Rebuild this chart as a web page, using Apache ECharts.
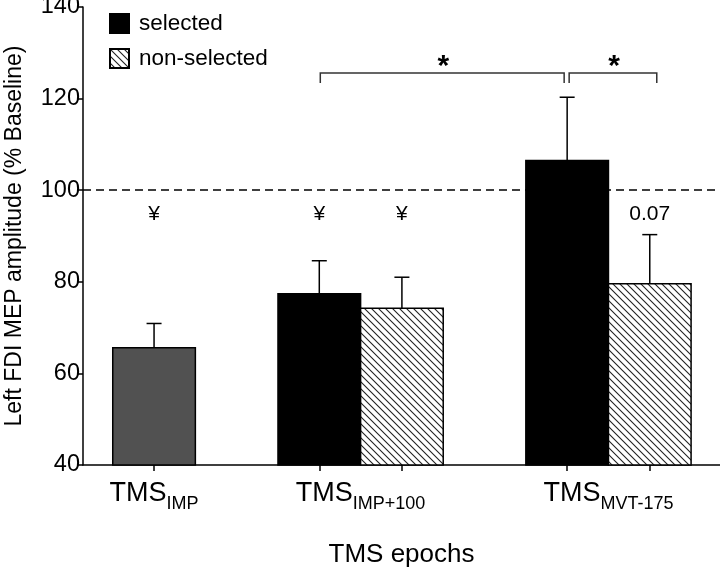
<!DOCTYPE html>
<html>
<head>
<meta charset="utf-8">
<script src="https://cdn.jsdelivr.net/npm/echarts@6/dist/echarts.min.js"></script>
<style>
html,body{margin:0;padding:0;background:#fff;}
#chart{width:720px;height:572px;}
</style>
</head>
<body>
<div id="chart"></div>
<script>
// ---- data ----
const epochs = ['IMP', 'IMP+100', 'MVT-175'];          // subscripts of "TMS"
const pooledMean = [65.6, null, null];
const pooledErr = [5.3, null, null];
const selectedMean = [null, 77.4, 106.5];
const selectedErr = [null, 7.2, 13.8];
const nonSelectedMean = [null, 74.2, 79.6];
const nonSelectedErr = [null, 6.8, 10.7];
const pooledMark = ['¥', null, null];
const selectedMark = [null, '¥', null];
const nonSelectedMark = [null, '¥', '0.07'];
const comparisons = [
  { from: [1, 'selected'], to: [2, 'selected'], label: '*' },
  { from: [2, 'selected'], to: [2, 'nonSelected'], label: '*' }
];
const yTicks = [40, 60, 80, 100, 120, 140];
const baseline = 100;

// ---- layout (bar units) ----
const FONT = '"Liberation Sans", Arial, Helvetica, sans-serif';
const seriesKeys = ['pooled', 'selected', 'nonSelected'];
const means = { pooled: pooledMean, selected: selectedMean, nonSelected: nonSelectedMean };
const errs = { pooled: pooledErr, selected: selectedErr, nonSelected: nonSelectedErr };
const marks = { pooled: pooledMark, selected: selectedMark, nonSelected: nonSelectedMark };
const barPos = {}; // key "g|series" -> x center
const groupCenters = [];
let cursor = 0;
epochs.forEach((e, g) => {
  const present = seriesKeys.filter(k => means[k][g] != null);
  const start = cursor;
  present.forEach((k, i) => { barPos[g + '|' + k] = start + i; });
  const end = start + present.length - 1;
  groupCenters.push((start + end) / 2);
  cursor = end + 2; // one bar-width gap between groups
});
const tickXs = Object.values(barPos).sort((a, b) => a - b);

function seriesData(key) {
  const out = [];
  epochs.forEach((e, g) => {
    if (means[key][g] != null) out.push([barPos[g + '|' + key], means[key][g], errs[key][g]]);
  });
  return out;
}

// hatch pattern
const pc = document.createElement('canvas');
const P = 7;
pc.width = P; pc.height = P;
const ctx = pc.getContext('2d');
ctx.fillStyle = '#fff'; ctx.fillRect(0, 0, P, P);
ctx.strokeStyle = '#222'; ctx.lineWidth = 1.1;
ctx.beginPath();
ctx.moveTo(-1, -1); ctx.lineTo(P + 1, P + 1);
ctx.moveTo(-1, P - 1); ctx.lineTo(1, P + 1);
ctx.moveTo(P - 1, -1); ctx.lineTo(P + 1, 1);
ctx.stroke();
const hatch = { image: pc, repeat: 'repeat' };

function barRenderer(fill) {
  return function (params, api) {
    const x = api.value(0), m = api.value(1), e = api.value(2);
    const tl = api.coord([x - 0.5, m]);
    const br = api.coord([x + 0.5, 40]);
    const b = api.coord([x, m]);
    const t = api.coord([x, m + e]);
    const ls = { stroke: '#000', lineWidth: 1.5 };
    return {
      type: 'group',
      children: [
        { type: 'rect', shape: { x: tl[0], y: tl[1], width: br[0] - tl[0], height: br[1] - tl[1] },
          style: { fill: fill, stroke: '#000', lineWidth: 1.5 } },
        { type: 'line', shape: { x1: b[0], y1: b[1], x2: t[0], y2: t[1] }, style: ls },
        { type: 'line', shape: { x1: t[0] - 7.5, y1: t[1], x2: t[0] + 7.5, y2: t[1] }, style: ls }
      ]
    };
  };
}

// annotation marks
const markData = [];
const markTexts = [];
seriesKeys.forEach(k => {
  epochs.forEach((e, g) => {
    if (marks[k][g] != null) { markData.push([barPos[g + '|' + k], 94.7]); markTexts.push(marks[k][g]); }
  });
});

const bracketData = comparisons.map(c => [barPos[c.from[0] + '|' + c.from[1]], barPos[c.to[0] + '|' + c.to[1]]]);

const chart = echarts.init(document.getElementById('chart'), null, { renderer: 'canvas' });
chart.setOption({
  animation: false,
  backgroundColor: '#fff',
  textStyle: { fontFamily: FONT, color: '#000' },
  grid: { left: 83, right: 0, top: 7, bottom: 107, containLabel: false, outerBoundsMode: 'none' },
  legend: {
    data: ['selected', 'non-selected'],
    orient: 'vertical', left: 109, top: 12, padding: 0,
    itemWidth: 19, itemHeight: 19, itemGap: 12,
    icon: 'rect',
    textStyle: { fontFamily: FONT, fontSize: 22.5, color: '#000', padding: [0, 0, 0, 5] }
  },
  xAxis: {
    type: 'value', min: -0.86, max: 6.85,
    name: 'TMS epochs', nameLocation: 'middle', nameGap: 77,
    nameTextStyle: { fontFamily: FONT, fontSize: 26, color: '#000' },
    axisLine: { onZero: false, lineStyle: { color: '#000', width: 1.5 } },
    axisTick: { customValues: tickXs, length: 6, lineStyle: { color: '#000', width: 1.5 } },
    axisLabel: {
      customValues: groupCenters, margin: 15,
      formatter: function (v) {
        let gi = 0, best = 1e9;
        groupCenters.forEach((c, i) => { if (Math.abs(c - v) < best) { best = Math.abs(c - v); gi = i; } });
        return '{m|TMS}{s|' + epochs[gi] + '}';
      },
      rich: {
        m: { fontFamily: FONT, fontSize: 27, color: '#000', verticalAlign: 'bottom', padding: [0, 0, 6, 0] },
        s: { fontFamily: FONT, fontSize: 18, color: '#000', verticalAlign: 'bottom' }
      }
    },
    splitLine: { show: false }
  },
  yAxis: {
    type: 'value', min: 40, max: 140, interval: 20,
    name: 'Left FDI MEP amplitude (% Baseline)', nameLocation: 'middle', nameGap: 57,
    nameTextStyle: { fontFamily: FONT, fontSize: 23, color: '#000' },
    axisLine: { show: true, onZero: false, lineStyle: { color: '#000', width: 1.5 } },
    axisTick: { show: true, length: 6, lineStyle: { color: '#000', width: 1.5 } },
    axisLabel: { fontFamily: FONT, fontSize: 23.5, color: '#000', margin: 3,
      formatter: v => (yTicks.indexOf(v) >= 0 ? String(v) : '') },
    splitLine: { show: false }
  },
  series: [
    {
      name: 'pooled', type: 'custom', renderItem: barRenderer('#515151'),
      data: seriesData('pooled'), encode: { x: 0, y: 1 },
      itemStyle: { color: '#515151' }, z: 2,
      markLine: {
        silent: true, symbol: 'none', label: { show: false },
        lineStyle: { color: '#000', width: 1.5, type: [8, 5] },
        data: [{ yAxis: baseline }]
      }
    },
    {
      name: 'selected', type: 'custom', renderItem: barRenderer('#000'),
      data: seriesData('selected'), encode: { x: 0, y: 1 },
      itemStyle: { color: '#000', borderColor: '#000', borderWidth: 1.5 }, z: 3
    },
    {
      name: 'non-selected', type: 'custom', renderItem: barRenderer(hatch),
      data: seriesData('nonSelected'), encode: { x: 0, y: 1 },
      itemStyle: { color: hatch, borderColor: '#000', borderWidth: 1.5 }, z: 3
    },
    {
      name: 'marks', type: 'custom', silent: true, z: 4,
      data: markData, encode: { x: 0, y: 1 },
      renderItem: function (params, api) {
        const p = api.coord([api.value(0), api.value(1)]);
        const txt = markTexts[params.dataIndex];
        return { type: 'text', x: p[0], y: p[1],
          style: { text: txt, fontFamily: FONT, fontSize: 21, fill: '#000',
            align: 'center', verticalAlign: 'middle' } };
      }
    },
    {
      name: 'brackets', type: 'custom', silent: true, z: 4,
      data: bracketData, encode: { x: [0, 1] },
      renderItem: function (params, api) {
        const i = params.dataIndex;
        const a = api.coord([api.value(0), 125.6]);
        const b = api.coord([api.value(1), 125.6]);
        const drop = api.coord([api.value(0), 123.4])[1];
        let x1 = a[0], x2 = b[0];
        // leave a small gap where two brackets meet on the same bar
        if (i === 0) { x1 += 1; x2 -= 3; } else { x1 += 2; x2 += 7; }
        return { type: 'group', children: [
          { type: 'polyline', shape: { points: [[x1, drop], [x1, a[1]], [x2, a[1]], [x2, drop]] },
            style: { stroke: '#333', lineWidth: 1.5, fill: null } },
          { type: 'text', x: (x1 + x2) / 2 + 1, y: a[1] - 6,
            style: { text: comparisons[i].label, fontFamily: FONT, fontSize: 30, fontWeight: 'bold',
              fill: '#000', align: 'center', verticalAlign: 'middle' } }
        ] };
      }
    }
  ]
});
</script>
</body>
</html>
